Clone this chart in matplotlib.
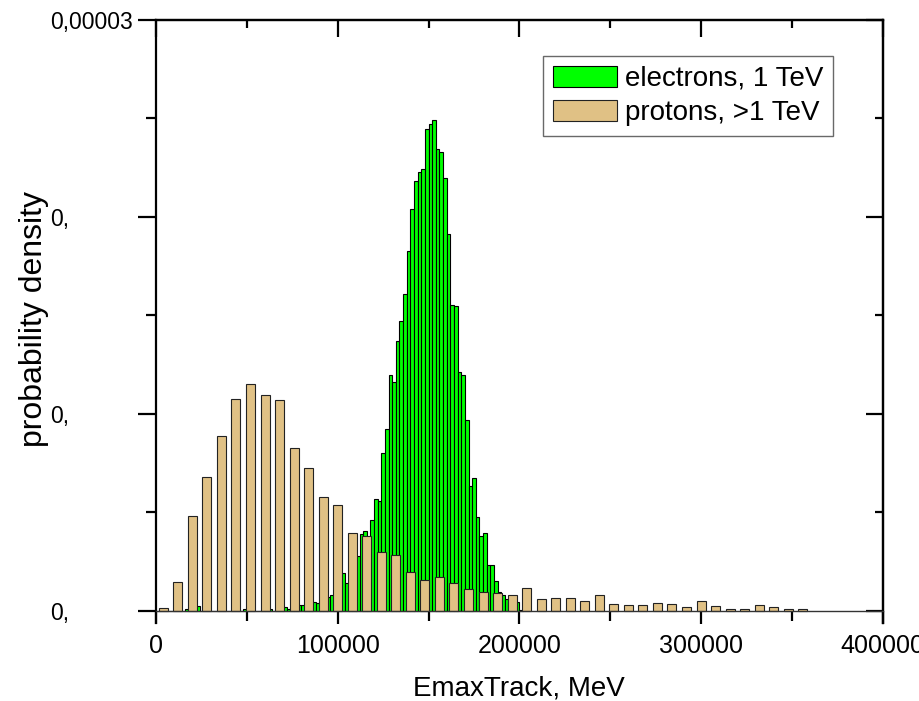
import numpy as np
import matplotlib
matplotlib.use('Agg')
import matplotlib.pyplot as plt
from matplotlib.ticker import MultipleLocator, FixedLocator

plt.rcParams['font.family'] = ['Liberation Sans', 'DejaVu Sans']

# electrons, 1 TeV: 2000 MeV bins, left edges from 0 to 200000 MeV (x1e-6)
e_bin = 2000
e_left = np.arange(0, 202000, e_bin)
e_dens = np.array([
    0, 0, 0, 0, 0, 0, 0, 0, 0.07, 0,
    0, 0.24, 0, 0, 0, 0, 0, 0, 0, 0,
    0, 0, 0, 0, 0.07, 0, 0, 0, 0, 0.05,
    0, 0.07, 0, 0.05, 0.10, 0.17, 0.07, 0.15, 0.20, 0.29,
    0.29, 0.30, 0.35, 0.46, 0.37, 0.50, 0.60, 0.71, 0.82, 1.00,
    1.30, 1.90, 1.42, 1.90, 2.40, 2.79, 3.88, 4.07, 3.70, 4.61,
    5.66, 5.59, 8.02, 9.22, 11.98, 11.64, 13.70, 14.72, 16.09, 18.28,
    20.40, 21.83, 22.29, 22.46, 24.48, 24.72, 24.93, 23.45, 23.29, 22.00,
    19.11, 15.55, 15.47, 12.11, 11.98, 9.69, 6.34, 6.73, 4.78, 3.80,
    3.93, 2.32, 2.32, 1.52, 0.97, 0.80, 0.58, 0.45, 0.35, 0.46,
    0.04,
]) * 1e-6

# protons, >1 TeV: 8000 MeV bins, centres 4000 ... 356000 MeV (x1e-6)
p_bin = 8000
p_center = np.arange(4000, 360000, p_bin)
p_dens = np.array([
    0.12, 1.44, 4.81, 6.78, 8.88, 10.74, 11.52, 10.98, 10.71, 8.28,
    7.27, 5.78, 5.39, 3.93, 3.81, 2.97, 2.83, 1.98, 1.54, 1.71,
    1.42, 1.10, 0.97, 0.88, 0.82, 1.17, 0.59, 0.63, 0.63, 0.48,
    0.81, 0.36, 0.27, 0.27, 0.41, 0.32, 0.17, 0.48, 0.24, 0.10,
    0.10, 0.27, 0.17, 0.10, 0.10,
]) * 1e-6

ytick_vals = [0, 1e-5, 2e-5, 3e-5]
ytick_text = ['0,', '0,', '0,', '0,00003']

fig = plt.figure(figsize=(9.19, 7.01), dpi=100)
ax = fig.add_axes([0.1698, 0.1108, 0.7907, 0.8606])

ax.bar(e_left, e_dens, width=e_bin, align='edge', color='#00FF00',
       edgecolor='black', linewidth=0.8, label='electrons, 1 TeV', zorder=2)
ax.bar(p_center, p_dens, width=0.62 * p_bin, color='#E0C185',
       edgecolor='#222222', linewidth=0.8, label='protons, >1 TeV', zorder=3)

ax.set_xlim(0, 400000)
ax.set_ylim(-0.64e-6, 3e-5)

# x axis line sits at zero, the side spines run a bit below it
ax.spines['bottom'].set_position(('data', 0))
ax.spines['bottom'].set_linewidth(1.0)
ax.spines['bottom'].set_color('#333333')
ax.spines['bottom'].set_zorder(4)
for s in ['left', 'right', 'top']:
    ax.spines[s].set_linewidth(1.6)

ax.xaxis.set_major_locator(MultipleLocator(100000))
ax.xaxis.set_minor_locator(MultipleLocator(50000))
ax.yaxis.set_major_locator(FixedLocator(ytick_vals))
ax.yaxis.set_minor_locator(MultipleLocator(5e-6))

ax.tick_params(axis='x', which='major', direction='out', length=9, width=1.6,
               labelsize=18, pad=8)
ax.tick_params(axis='x', which='minor', direction='out', length=7, width=1.6)
ax.tick_params(axis='y', which='major', direction='out', length=13, width=1.6,
               labelsize=16.5, pad=63.4)
ax.tick_params(axis='y', which='minor', direction='out', length=7, width=1.6)

ax.set_yticklabels(ytick_text)
for lab in ax.get_yticklabels():
    lab.set_horizontalalignment('left')

# inward ticks on top and right
secx = ax.secondary_xaxis('top')
secx.xaxis.set_major_locator(MultipleLocator(100000))
secx.xaxis.set_minor_locator(MultipleLocator(50000))
secx.tick_params(which='major', direction='in', length=12, width=1.6, labeltop=False)
secx.tick_params(which='minor', direction='in', length=6, width=1.6)
secx.spines['top'].set_linewidth(1.6)

secy = ax.secondary_yaxis('right')
secy.yaxis.set_major_locator(FixedLocator(ytick_vals))
secy.yaxis.set_minor_locator(MultipleLocator(5e-6))
secy.tick_params(which='major', direction='in', length=12, width=1.6, labelright=False)
secy.tick_params(which='minor', direction='in', length=6, width=1.6)
secy.spines['right'].set_linewidth(1.6)

ax.set_xlabel('EmaxTrack, MeV', fontsize=20)
ax.set_ylabel('probability density', fontsize=23)
ax.xaxis.set_label_coords(0.5, -0.087)
ax.yaxis.set_label_coords(-0.147, 0.505)

leg = ax.legend(loc='upper left', bbox_to_anchor=(0.533, 0.940), fontsize=20,
                frameon=True, fancybox=False, edgecolor='#444444',
                handlelength=2.3, handleheight=0.76, borderaxespad=0,
                borderpad=0.35, labelspacing=0.3, handletextpad=0.3)
leg.get_frame().set_linewidth(1.0)

plt.savefig('out.png', dpi=100)
